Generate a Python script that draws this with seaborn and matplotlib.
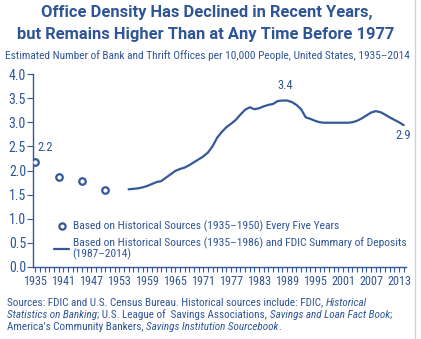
import matplotlib
matplotlib.use("Agg")
import matplotlib.pyplot as plt
import seaborn as sns
import pandas as pd
from matplotlib.lines import Line2D
from matplotlib.ticker import MultipleLocator

# ---- data ----
hist_years = [1935, 1940, 1945, 1950]
hist_vals = [2.17, 1.865, 1.79, 1.60]

line_years = list(range(1955, 2015))
line_vals = [1.61, 1.62, 1.63, 1.65, 1.68, 1.72, 1.76, 1.78, 1.85, 1.92,
             1.99, 2.03, 2.06, 2.11, 2.17, 2.23, 2.29, 2.37, 2.50, 2.68,
             2.80, 2.90, 2.97, 3.05, 3.16, 3.26, 3.31, 3.27, 3.29, 3.33,
             3.36, 3.38, 3.44, 3.45, 3.45, 3.42, 3.36, 3.27, 3.10, 3.07,
             3.03, 3.00, 2.99, 2.99, 2.99, 2.99, 2.99, 2.99, 3.00, 3.03,
             3.08, 3.14, 3.20, 3.23, 3.21, 3.16, 3.10, 3.05, 3.00, 2.94]

xtick_labels = [1935, 1941, 1947, 1953, 1959, 1965, 1971, 1977, 1983, 1989,
                1995, 2001, 2007, 2013]
ytick_vals = [0.0, 0.5, 1.0, 1.5, 2.0, 2.5, 3.0, 3.5, 4.0]

legend_hist = "Based on Historical Sources (1935–1950) Every Five Years"
legend_line = ("Based on Historical Sources (1935–1986) and FDIC Summary of Deposits\n"
               "(1987–2014)")

title_lines = ["Office Density Has Declined in Recent Years,",
               "but Remains Higher Than at Any Time Before 1977"]
subtitle = "Estimated Number of Bank and Thrift Offices per 10,000 People, United States, 1935–2014"

sources = [
    [("Sources: FDIC and U.S. Census Bureau. Historical sources include: FDIC, ", "normal"),
     ("Historical", "italic")],
    [("Statistics on Banking", "italic"), ("; U.S. League of  Savings Associations, ", "normal"),
     ("Savings and Loan Fact Book", "italic"), (";", "normal")],
    [("America’s Community Bankers, ", "normal"), ("Savings Institution Sourcebook", "italic"),
     (".", "normal")],
]

# ---- style ----
sns.set_style("ticks")
FONT = ["Roboto Condensed", "Archivo Narrow", "Liberation Sans", "DejaVu Sans"]
plt.rcParams["font.family"] = FONT
BLUE = "#2f5597"
LINE = "#34589a"

W, H = 421, 339
df_hist = pd.DataFrame({"year": hist_years, "val": hist_vals})
df_line = pd.DataFrame({"year": line_years, "val": line_vals})

fig = plt.figure(figsize=(W / 100, H / 100), dpi=100)
fig.patch.set_facecolor("white")
ax = fig.add_axes([33 / W, 1 - 267 / H, (406 - 33) / W, (267 - 74) / H])

sns.lineplot(data=df_line, x="year", y="val", ax=ax, color=LINE, linewidth=1.6)
sns.scatterplot(data=df_hist, x="year", y="val", ax=ax, marker="o", s=22,
                facecolor="white", edgecolor=LINE, linewidth=1.6, zorder=3)

ax.set_xlim(1934.5, 2014.5)
ax.set_ylim(0, 4.0)
ax.set_xticks(xtick_labels)
ax.set_xticklabels([str(v) for v in xtick_labels])
ax.xaxis.set_minor_locator(MultipleLocator(1))
ax.set_yticks(ytick_vals)
ax.set_yticklabels([f"{v:.1f}" for v in ytick_vals])
ax.set_xlabel("")
ax.set_ylabel("")

for s in ["top", "right"]:
    ax.spines[s].set_visible(False)
for s in ["left", "bottom"]:
    ax.spines[s].set_color(LINE)
    ax.spines[s].set_linewidth(1.0)
ax.tick_params(axis="x", which="both", direction="out", length=3.5, width=0.8,
               color=LINE, labelcolor=BLUE, labelsize=8.7, pad=2)
ax.tick_params(axis="y", which="both", direction="out", length=4, width=0.8,
               color=LINE, labelcolor=BLUE, labelsize=10, pad=1)

# annotations
ax.text(1935.4, 2.34, "2.2", color=BLUE, fontsize=9, ha="left", va="bottom")
ax.text(1988.5, 3.62, "3.4", color=BLUE, fontsize=9, ha="center", va="bottom")
ax.text(2014, 2.85, "2.9", color=BLUE, fontsize=9, ha="center", va="top")

handles = [
    Line2D([], [], marker="o", linestyle="none", markersize=4.5, markerfacecolor="white",
           markeredgecolor=LINE, markeredgewidth=1.6),
    Line2D([], [], color=LINE, linewidth=1.6),
]
leg = ax.legend(handles, [legend_hist, legend_line], loc="lower left",
                bbox_to_anchor=(0.045, 0.012), frameon=False, fontsize=8.25,
                handlelength=1.25, handletextpad=0.35, labelspacing=0.45,
                borderaxespad=0.0)
for t in leg.get_texts():
    t.set_color(BLUE)
    t.set_linespacing(0.95)

fig.canvas.draw()
renderer = fig.canvas.get_renderer()


def fit_text(x, y, s, target_w, base=10, **kw):
    t = fig.text(x / W, 1 - y / H, s, fontsize=base, **kw)
    w = t.get_window_extent(renderer=renderer).width
    t.set_fontsize(base * target_w / w)
    return t


# title (two lines sharing one size)
t2 = fit_text(205.5, 39.3, title_lines[1], 377, ha="center", va="baseline",
              fontweight="bold", color=BLUE, family=["Roboto", "Liberation Sans"])
tsize = t2.get_fontsize()
fig.text(207 / W, 1 - 17.3 / H, title_lines[0], ha="center", va="baseline",
         fontsize=tsize, fontweight="bold", color=BLUE, family=["Roboto", "Liberation Sans"])

# subtitle
fit_text(5, 56, subtitle, 405, ha="left", va="center", color=BLUE)

# sources with mixed italics
src_size = 8.0
y_lines = [302.5, 314.5, 326.5]
for line, yy in zip(sources, y_lines):
    x = 7
    for txt, style in line:
        t = fig.text(x / W, 1 - yy / H, txt, ha="left", va="center", fontsize=src_size,
                     color=BLUE, style=style)
        bb = t.get_window_extent(renderer=renderer)
        x += bb.width

# right border
fig.add_artist(Line2D([415 / W, 415 / W], [0, 1], color="#c7d2e5", linewidth=1.0,
                      transform=fig.transFigure))

fig.savefig("out.png", dpi=100, facecolor="white")
